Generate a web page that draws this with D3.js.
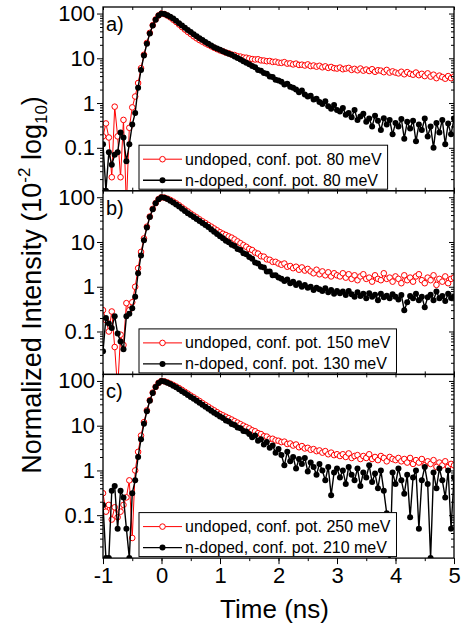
<!DOCTYPE html>
<html lang='en'>
<head>
<meta charset='UTF-8'>
<title>PL decay - three panels</title>
<script src='https://d3js.org/d3.v7.min.js'></script>
<style>
  body { margin: 0; background: #fff; }
  svg { display: block; font-family: 'Liberation Sans', Arial, sans-serif; }
</style>
</head>
<body>
<div id='chart'></div>
<script>
// time channels (ns)
const time = [
  -1, -0.95, -0.9, -0.85, -0.8, -0.75, -0.7, -0.65, -0.6, -0.55,
  -0.5, -0.45, -0.4, -0.35, -0.3, -0.25, -0.2, -0.15, -0.1, -0.05,
  0, 0.05, 0.1, 0.15, 0.2, 0.25, 0.3, 0.35, 0.4, 0.45,
  0.5, 0.55, 0.6, 0.65, 0.7, 0.75, 0.8, 0.85, 0.9, 0.95,
  1, 1.05, 1.1, 1.15, 1.2, 1.25, 1.3, 1.35, 1.4, 1.45,
  1.5, 1.55, 1.6, 1.65, 1.7, 1.75, 1.8, 1.85, 1.9, 1.95,
  2, 2.05, 2.1, 2.15, 2.2, 2.25, 2.3, 2.35, 2.4, 2.45,
  2.5, 2.55, 2.6, 2.65, 2.7, 2.75, 2.8, 2.85, 2.9, 2.95,
  3, 3.05, 3.1, 3.15, 3.2, 3.25, 3.3, 3.35, 3.4, 3.45,
  3.5, 3.55, 3.6, 3.65, 3.7, 3.75, 3.8, 3.85, 3.9, 3.95,
  4, 4.05, 4.1, 4.15, 4.2, 4.25, 4.3, 4.35, 4.4, 4.45,
  4.5, 4.55, 4.6, 4.65, 4.7, 4.75, 4.8, 4.85, 4.9, 4.95,
  5
];

// panel a
const undopedA = [
  0.18, 0.35, 0.17, 0.022, 0.83, 0.18, 0.022, 0.42, 0.005, 0.28,
  0.8, 1.4, 2.8, 6, 12, 22, 37, 55, 74, 91,
  100, 97, 90, 82, 73, 65, 57, 50, 44, 39,
  35, 31, 28, 25.5, 23.5, 21.5, 20, 18.5, 17.2, 16,
  15, 14.3, 13.4, 12.9, 12.1, 11.8, 11.1, 10.9, 10.4, 10.3,
  9.9, 9.6, 9.4, 9.5, 9.0, 8.9, 8.6, 8.7, 8.3, 8.4,
  8.0, 7.9, 8.2, 7.6, 7.7, 7.3, 7.6, 7.1, 7.2, 6.9,
  7.3, 6.7, 6.9, 6.5, 6.8, 6.3, 6.6, 6.1, 6.4, 6.0,
  5.9, 6.2, 5.7, 5.9, 6.1, 5.5, 5.8, 5.4, 5.9, 5.3,
  5.6, 5.2, 5.7, 5.0, 5.4, 5.3, 4.9, 5.5, 4.8, 5.1,
  4.8, 4.6, 5.0, 4.4, 4.9, 4.5, 4.3, 4.8, 4.2, 4.5,
  4.0, 4.6, 3.9, 4.3, 3.6, 4.1, 3.8, 3.5, 4.0, 3.6,
  3.9
];
const dopedA = [
  0.12, 0.011, 0.08, 0.042, 0.07, 0.08, 0.22, 0.17, 0.05, 0.12,
  0.33, 0.6, 2.2, 5.5, 11.5, 21, 36, 54, 73, 90,
  100, 98, 92, 85, 77, 69, 61, 54, 48, 43,
  38.5, 34.5, 31, 28, 25.5, 23, 21, 19.2, 17.6, 16.5,
  15.5, 14.4, 13.5, 12.7, 12, 11, 10.2, 9.4, 8.6, 7.9,
  7.4, 6.7, 6.3, 5.5, 5.3, 4.7, 4.5, 3.9, 3.8, 3.3,
  3.2, 3.0, 2.6, 2.7, 2.3, 2.2, 2.0, 1.75, 1.9, 1.55,
  1.4, 1.45, 1.2, 1.25, 1.05, 0.95, 1.1, 0.85, 0.75, 0.9,
  0.7, 0.65, 0.78, 0.55, 0.6, 0.48, 0.7, 0.42, 0.5, 0.58,
  0.38, 0.45, 0.3, 0.52, 0.4, 0.25, 0.46, 0.33, 0.42, 0.2,
  0.36, 0.3, 0.44, 0.16, 0.38, 0.27, 0.4, 0.14, 0.33, 0.25,
  0.45, 0.18, 0.3, 0.1, 0.36, 0.22, 0.42, 0.12, 0.35, 0.2,
  0.45
];

// panel b
const undopedB = [
  0.3, 0.18, 0.1, 0.28, 0.045, 0.005, 0.085, 0.05, 0.43, 0.3,
  0.45, 1.0, 2.6, 6, 12, 22, 37, 55, 74, 91,
  100, 98, 93, 87, 80, 73, 66, 59, 53, 48,
  43, 39, 35.5, 32, 29, 26.5, 24, 22, 20, 18.2,
  16.5, 15.3, 14.3, 13.3, 12.5, 11.4, 10.3, 9.4, 8.5, 7.8,
  7.0, 6.6, 5.8, 5.5, 4.8, 4.7, 4.1, 4.0, 3.6, 3.6,
  3.3, 3.1, 3.3, 2.8, 2.9, 2.6, 2.8, 2.4, 2.7, 2.3,
  2.5, 2.2, 2.0, 2.4, 1.9, 2.2, 1.8, 2.1, 1.7, 2.0,
  1.8, 1.7, 2.0, 1.6, 1.9, 1.5, 1.8, 1.4, 1.7, 1.9,
  1.5, 1.6, 1.3, 1.8, 1.5, 1.4, 2.0, 1.5, 1.6, 1.3,
  1.7, 1.5, 1.2, 1.8, 1.4, 1.6, 1.3, 1.7, 1.9, 1.4,
  1.2, 1.6, 1.4, 1.8, 1.1, 1.5, 1.3, 1.7, 1.2, 1.5,
  1.6
];
const dopedB = [
  0.036, 0.2, 0.15, 0.12, 0.22, 0.09, 0.06, 0.04, 0.22, 0.25,
  0.33, 0.6, 2.0, 5, 11, 21, 36, 54, 73, 90,
  100, 97, 91, 84, 76, 69, 62, 55, 49, 44,
  40, 36, 32.5, 29.5, 26.5, 24, 21.5, 19, 17, 15,
  13.5, 12.2, 10.6, 9.9, 8.7, 8.1, 7.0, 6.6, 5.6, 5.3,
  4.6, 4.2, 3.5, 3.3, 2.8, 2.7, 2.2, 2.2, 1.8, 1.8,
  1.6, 1.5, 1.35, 1.45, 1.2, 1.3, 1.1, 1.2, 1.0, 1.1,
  0.95, 1.0, 0.85, 0.95, 0.88, 0.8, 0.92, 0.75, 0.85, 0.7,
  0.8, 0.72, 0.78, 0.65, 0.8, 0.68, 0.6, 0.75, 0.62, 0.7,
  0.55, 0.72, 0.6, 0.66, 0.5, 0.7, 0.58, 0.63, 0.55, 0.68,
  0.6, 0.52, 0.65, 0.3, 0.45, 0.62, 0.55, 0.7, 0.5, 0.6,
  0.35, 0.58, 0.66, 0.5, 0.78, 0.55, 0.62, 0.48, 0.7, 0.56,
  0.6
];

// panel c
const undopedC = [
  0.31, 0.12, 0.17, 0.08, 0.15, 0.09, 0.12, 0.17, 0.25, 0.6,
  0.031, 1.0, 2.6, 6, 12, 22, 37, 55, 74, 91,
  100, 98, 93, 87, 81, 75, 69, 63, 57, 52,
  47, 43, 39, 35.5, 32, 29, 26.5, 24, 22, 20,
  18.3, 17, 15.8, 14.7, 13.7, 12.6, 11.7, 10.8, 10, 9.3,
  8.7, 7.9, 7.5, 6.8, 6.5, 5.8, 5.7, 5.1, 5.1, 4.7,
  4.6, 4.3, 4.4, 3.9, 4.0, 3.6, 3.8, 3.3, 3.5, 3.1,
  3.2, 2.9, 3.0, 2.7, 2.8, 2.5, 2.7, 2.3, 2.5, 2.2,
  2.3, 2.1, 2.3, 2.0, 2.4, 1.9, 2.1, 2.2, 1.8, 2.1,
  1.9, 2.3, 1.8, 2.0, 1.7, 2.1, 1.9, 1.6, 2.0, 1.8,
  1.7, 1.9, 1.6, 1.8, 1.5, 1.9, 1.4, 1.7, 1.5, 1.8,
  1.3, 1.6, 1.4, 1.7, 1.2, 1.5, 1.3, 1.6, 1.2, 1.4,
  1.3
];
const dopedC = [
  0.17, 0.011, 0.011, 0.35, 0.45, 0.05, 0.35, 0.25, 0.05, 0.011,
  0.31, 0.6, 2.0, 5, 11, 21, 36, 54, 73, 90,
  100, 97, 91, 85, 78, 72, 65, 59, 53.5, 48.5,
  44, 40, 36, 32.5, 29.5, 26.5, 24, 21.5, 19.5, 17.7,
  16, 14.8, 13.1, 12.4, 10.9, 10.4, 9.1, 8.8, 7.6, 7.4,
  6.5, 5.5, 6.0, 4.6, 5.0, 3.8, 4.3, 3.2, 3.6, 2.5,
  3.0, 2.2, 1.3, 2.6, 1.6, 2.0, 1.1, 1.8, 1.4, 1.9,
  0.95, 1.5, 1.2, 0.8, 1.4, 1.0, 0.6, 1.2, 0.28, 0.9,
  1.1, 0.7, 1.0, 0.5, 1.2, 0.8, 0.6, 1.1, 0.45, 0.9,
  0.7, 1.3, 0.55, 0.85, 0.4, 1.0, 0.35, 0.11, 0.005, 0.9,
  0.5, 1.1, 0.6, 0.3, 0.8, 0.09, 0.7, 1.0, 0.05, 0.6,
  1.2, 0.5, 0.011, 0.9, 0.4, 1.1, 0.6, 0.25, 1.0, 0.05,
  0.7
];

const panelLabels = ['a)', 'b)', 'c)'];
const undopedNames = ['undoped, conf. pot. 80 meV', 'undoped, conf. pot. 150 meV', 'undoped, conf. pot. 250 meV'];
const dopedNames = ['n-doped, conf. pot. 80 meV', 'n-doped, conf. pot. 130 meV', 'n-doped, conf. pot. 210 meV'];
const yTicks = [0.1, 1, 10, 100];
const yTickLabels = ['0.1', '1', '10', '100'];
const xTicks = [-1, 0, 1, 2, 3, 4, 5];
const xTickLabels = ['-1', '0', '1', '2', '3', '4', '5'];

const undopedAll = [undopedA, undopedB, undopedC];
const dopedAll = [dopedA, dopedB, dopedC];

const W = 462, H = 626;
const plotLeft = 103, plotRight = 454, plotTop = 7;
const panelH = 183.7;
const RED = '#ff0000';

const svg = d3.select('#chart').append('svg').attr('width', W).attr('height', H);
svg.append('rect').attr('width', W).attr('height', H).attr('fill', '#fff');

const x = d3.scaleLinear().domain([-1, 5]).range([plotLeft, plotRight]);
const y = d3.scaleLog().domain([0.011, 140]).range([panelH, 0]);

// minor tick positions
const yMinor = [];
[0.01, 0.1, 1, 10, 100].forEach(dec => {
  for (let k = 2; k <= 9; k++) {
    const v = k * dec;
    if (v > 0.011 && v < 140) yMinor.push(v);
  }
});
const xMinor = d3.range(-1, 5.01, 0.5);

const line = d3.line().x(d => x(d.t)).y(d => y(d.v));

const styleAxis = (sel) => {
  sel.select('.domain').remove();
  sel.selectAll('line').attr('stroke', '#000').attr('stroke-width', 1);
  sel.attr('font-family', null).attr('font-size', null);
};

panelLabels.forEach((label, i) => {
  const top = plotTop + i * panelH;
  const g = svg.append('g').attr('transform', `translate(0, ${top})`);

  g.append('clipPath').attr('id', 'clip' + i)
    .append('rect').attr('x', plotLeft).attr('y', 0)
    .attr('width', plotRight - plotLeft).attr('height', panelH);

  const plot = g.append('g').attr('clip-path', `url(#clip${i})`);
  const red = time.map((t, k) => ({ t, v: undopedAll[i][k] }));
  const black = time.map((t, k) => ({ t, v: dopedAll[i][k] }));

  plot.append('path').datum(red).attr('d', line)
    .attr('fill', 'none').attr('stroke', RED).attr('stroke-width', 1);
  plot.append('g').selectAll('circle').data(red).join('circle')
    .attr('cx', d => x(d.t)).attr('cy', d => y(d.v)).attr('r', 2.8)
    .attr('fill', '#fff').attr('stroke', RED).attr('stroke-width', 1);

  plot.append('path').datum(black).attr('d', line)
    .attr('fill', 'none').attr('stroke', '#000').attr('stroke-width', 1.4);
  plot.append('g').selectAll('circle').data(black).join('circle')
    .attr('cx', d => x(d.t)).attr('cy', d => y(d.v)).attr('r', 3)
    .attr('fill', '#000');

  // left axis: labels + major ticks outward
  const yl = g.append('g').attr('transform', `translate(${plotLeft}, 0)`)
    .call(d3.axisLeft(y).tickValues(yTicks).tickSize(6).tickPadding(2)
      .tickFormat((d, k) => yTickLabels[k]));
  styleAxis(yl);
  yl.selectAll('text').attr('font-size', 22).attr('fill', '#000');
  const ylm = g.append('g').attr('transform', `translate(${plotLeft}, 0)`)
    .call(d3.axisLeft(y).tickValues(yMinor).tickSize(3).tickFormat(''));
  styleAxis(ylm);

  // right axis: inward ticks
  const yr = g.append('g').attr('transform', `translate(${plotRight}, 0)`)
    .call(d3.axisRight(y).tickValues(yTicks).tickSize(-5).tickFormat(''));
  styleAxis(yr);
  const yrm = g.append('g').attr('transform', `translate(${plotRight}, 0)`)
    .call(d3.axisRight(y).tickValues(yMinor).tickSize(-3).tickFormat(''));
  styleAxis(yrm);

  // top ticks inward
  const xt = g.append('g').call(d3.axisTop(x).tickValues(xMinor).tickSize(-3).tickFormat(''));
  styleAxis(xt);

  if (i < 2) {
    const xb = g.append('g').attr('transform', `translate(0, ${panelH})`)
      .call(d3.axisBottom(x).tickValues(xMinor).tickSize(-3).tickFormat(''));
    styleAxis(xb);
  } else {
    const xb = g.append('g').attr('transform', `translate(0, ${panelH})`)
      .call(d3.axisBottom(x).tickValues(xTicks).tickSize(6).tickPadding(3)
        .tickFormat((d, k) => xTickLabels[k]));
    styleAxis(xb);
    xb.selectAll('text').attr('font-size', 22).attr('fill', '#000');
    const xbm = g.append('g').attr('transform', `translate(0, ${panelH})`)
      .call(d3.axisBottom(x).tickValues(xMinor).tickSize(3).tickFormat(''));
    styleAxis(xbm);
  }

  // frame
  g.append('rect').attr('x', plotLeft).attr('y', 0)
    .attr('width', plotRight - plotLeft).attr('height', panelH)
    .attr('fill', 'none').attr('stroke', '#000').attr('stroke-width', 1.3);

  // panel label
  g.append('text').attr('x', plotLeft + 3).attr('y', 24)
    .attr('font-size', 20).attr('fill', '#000').text(label);

  // legend
  const lg = g.append('g');
  const boxTop = panelH - 45.5;
  const box = lg.append('rect').attr('x', 139).attr('y', boxTop).attr('height', 44)
    .attr('fill', '#fff').attr('stroke', '#000').attr('stroke-width', 1);
  const rows = [
    { name: undopedNames[i], color: RED, open: true },
    { name: dopedNames[i], color: '#000', open: false }
  ];
  let maxEnd = 0;
  rows.forEach((r, k) => {
    const cy = boxTop + 14 + k * 21;
    lg.append('line').attr('x1', 143).attr('x2', 182).attr('y1', cy).attr('y2', cy)
      .attr('stroke', r.color).attr('stroke-width', r.open ? 1 : 1.4);
    lg.append('circle').attr('cx', 162.5).attr('cy', cy).attr('r', r.open ? 2.8 : 3)
      .attr('fill', r.open ? '#fff' : '#000').attr('stroke', r.color).attr('stroke-width', r.open ? 1 : 0);
    const t = lg.append('text').attr('x', 185).attr('y', cy).attr('dy', '0.35em')
      .attr('font-size', 16).attr('fill', '#000').text(r.name);
    maxEnd = Math.max(maxEnd, 185 + t.node().getComputedTextLength());
  });
  box.attr('width', maxEnd + 6 - 139);
});

// axis titles
svg.append('text').attr('x', (plotLeft + plotRight) / 2 - 4).attr('y', 618)
  .attr('text-anchor', 'middle').attr('font-size', 26).attr('fill', '#000')
  .text('Time (ns)');

const yTitle = svg.append('text')
  .attr('transform', 'translate(41, 285) rotate(-90)')
  .attr('text-anchor', 'middle').attr('font-size', 27).attr('fill', '#000');
yTitle.append('tspan').text('Normalized Intensity (10');
yTitle.append('tspan').attr('font-size', 17).attr('dy', -11).text('-2');
yTitle.append('tspan').attr('dy', 11).text(' log');
yTitle.append('tspan').attr('font-size', 17).attr('dy', 6).text('10');
yTitle.append('tspan').attr('dy', -6).text(')');
</script>
</body>
</html>
